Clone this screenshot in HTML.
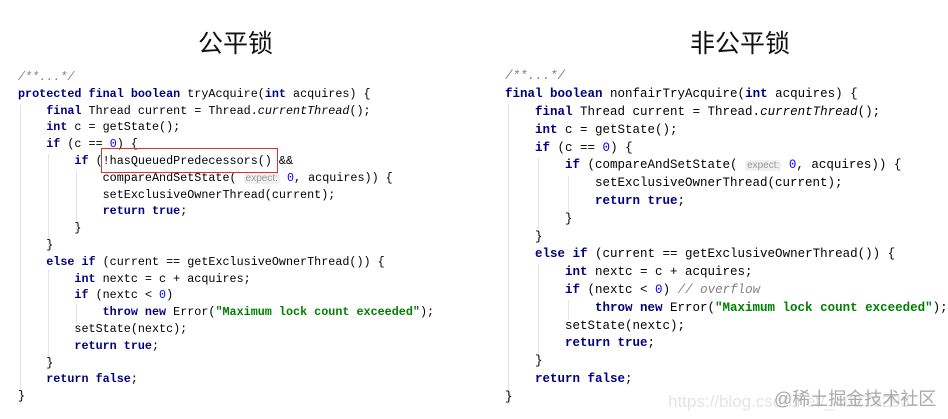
<html><head><style>
body{margin:0;width:948px;height:419px;background:#fff;position:relative;overflow:hidden;font-family:"Liberation Mono",monospace;}
.t{position:absolute;font-family:"Liberation Sans","Noto Sans CJK SC",sans-serif;font-size:25px;color:#111;}
.c{position:absolute;white-space:pre;color:#000;}
.L{font-size:11.75px;left:18px;}
.R{font-size:12.5px;left:505px;}
b{color:#000080;font-weight:bold}
.n{color:#0000ff}
.s{color:#008000;font-weight:bold}
.cm{color:#808080;font-style:italic}
.h{font-family:"Liberation Sans",sans-serif;color:#999;font-size:10px;background:#f0f0f0;border-radius:3px;padding:0 2px}
.g{position:absolute;width:1px;background:#e4e4e4}
</style></head><body>
<div class="t" style="left:198px;top:24px">公平锁</div>
<div class="t" style="left:690px;top:24px">非公平锁</div>

<div class="g" style="left:20px;top:104px;height:300px"></div>
<div class="g" style="left:48px;top:154px;height:95px"></div>
<div class="g" style="left:76px;top:170px;height:60px"></div>
<div class="g" style="left:48px;top:270px;height:95px"></div>
<div class="g" style="left:76px;top:304px;height:20px"></div>

<div class="c L" style="top:70px"><span class="cm">/**...*/</span></div>
<div class="c L" style="top:87px"><b>protected final boolean</b> tryAcquire(<b>int</b> acquires) {</div>
<div class="c L" style="top:104px">    <b>final</b> Thread current = Thread.<i>currentThread</i>();</div>
<div class="c L" style="top:120px">    <b>int</b> c = getState();</div>
<div class="c L" style="top:137px">    <b>if</b> (c == <span class="n">0</span>) {</div>
<div class="c L" style="top:154px">        <b>if</b> (!hasQueuedPredecessors() &amp;&amp;</div>
<div class="c L" style="top:171px">            compareAndSetState( <span class="h">expect:</span> <span class="n">0</span>, acquires)) {</div>
<div class="c L" style="top:188px">            setExclusiveOwnerThread(current);</div>
<div class="c L" style="top:204px">            <b>return true</b>;</div>
<div class="c L" style="top:221px">        }</div>
<div class="c L" style="top:238px">    }</div>
<div class="c L" style="top:255px">    <b>else if</b> (current == getExclusiveOwnerThread()) {</div>
<div class="c L" style="top:272px">        <b>int</b> nextc = c + acquires;</div>
<div class="c L" style="top:288px">        <b>if</b> (nextc &lt; <span class="n">0</span>)</div>
<div class="c L" style="top:305px">            <b>throw new</b> Error(<span class="s">"Maximum lock count exceeded"</span>);</div>
<div class="c L" style="top:322px">        setState(nextc);</div>
<div class="c L" style="top:339px">        <b>return true</b>;</div>
<div class="c L" style="top:356px">    }</div>
<div class="c L" style="top:372px">    <b>return false</b>;</div>
<div class="c L" style="top:389px">}</div>
<div style="position:absolute;left:101px;top:148px;width:175px;height:23px;border:1px solid #e03030"></div>

<div class="g" style="left:508px;top:104px;height:300px"></div>
<div class="g" style="left:538px;top:158px;height:76px"></div>
<div class="g" style="left:568px;top:176px;height:40px"></div>
<div class="g" style="left:538px;top:264px;height:94px"></div>
<div class="g" style="left:568px;top:300px;height:20px"></div>

<div class="c R" style="top:69px"><span class="cm">/**...*/</span></div>
<div class="c R" style="top:87px"><b>final boolean</b> nonfairTryAcquire(<b>int</b> acquires) {</div>
<div class="c R" style="top:105px">    <b>final</b> Thread current = Thread.<i>currentThread</i>();</div>
<div class="c R" style="top:123px">    <b>int</b> c = getState();</div>
<div class="c R" style="top:141px">    <b>if</b> (c == <span class="n">0</span>) {</div>
<div class="c R" style="top:158px">        <b>if</b> (compareAndSetState( <span class="h">expect:</span> <span class="n">0</span>, acquires)) {</div>
<div class="c R" style="top:176px">            setExclusiveOwnerThread(current);</div>
<div class="c R" style="top:194px">            <b>return true</b>;</div>
<div class="c R" style="top:212px">        }</div>
<div class="c R" style="top:230px">    }</div>
<div class="c R" style="top:247px">    <b>else if</b> (current == getExclusiveOwnerThread()) {</div>
<div class="c R" style="top:265px">        <b>int</b> nextc = c + acquires;</div>
<div class="c R" style="top:283px">        <b>if</b> (nextc &lt; <span class="n">0</span>) <span class="cm">// overflow</span></div>
<div class="c R" style="top:301px">            <b>throw new</b> Error(<span class="s">"Maximum lock count exceeded"</span>);</div>
<div class="c R" style="top:319px">        setState(nextc);</div>
<div class="c R" style="top:336px">        <b>return true</b>;</div>
<div class="c R" style="top:354px">    }</div>
<div class="c R" style="top:372px">    <b>return false</b>;</div>
<div class="c R" style="top:390px">}</div>
<div style="position:absolute;left:668px;top:392px;white-space:nowrap;font-family:'Liberation Sans',sans-serif;font-size:17px;color:#e4e4e4">https://blog.csdn.net/_40276293</div>
<div style="position:absolute;left:774px;top:385px;white-space:nowrap;font-family:'Liberation Sans','Noto Sans CJK SC',sans-serif;font-size:18px;color:#aaa">@稀土掘金技术社区</div>
</body></html>
